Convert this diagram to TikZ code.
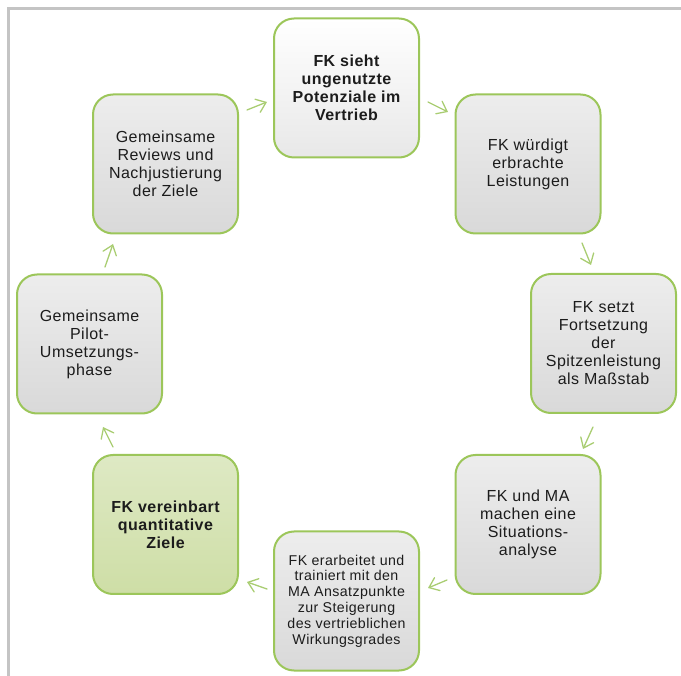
\documentclass[tikz,border=0pt]{standalone}
\usepackage{fontspec}
\setmainfont{Liberation Sans}[LetterSpace=3]
\usetikzlibrary{arrows.meta}
\definecolor{boxgreen}{HTML}{9CC65A}
\definecolor{arrgreen}{HTML}{A9CD72}
\definecolor{txtcol}{HTML}{1C1C1C}
\definecolor{framecol}{HTML}{C4C4C4}
\begin{document}
\begin{tikzpicture}[x=1pt,y=-1pt,
  stepbox/.style={draw=boxgreen, line width=2pt, rounded corners=20pt,
    minimum width=145pt, minimum height=139pt, inner sep=0pt,
    align=center, text=txtcol, font=\fontsize{16}{18}\selectfont,
    top color=white!93!black, middle color=white!86!black, bottom color=white!85!black},
  lightbox/.style={stepbox, top color=white, middle color=white!98!black, bottom color=white!91!black,
    font=\fontsize{16}{18}\selectfont\bfseries},
  greenbox/.style={stepbox, top color={rgb,255:red,222;green,233;blue,196},
    middle color={rgb,255:red,211;green,226;blue,176}, bottom color={rgb,255:red,206;green,222;blue,166},
    font=\fontsize{16}{18}\selectfont\bfseries},
  smallbox/.style={stepbox, font=\fontsize{14.2}{15.8}\selectfont},
  arr/.style={draw=arrgreen, line width=1.3pt, line cap=round,
    -{Straight Barb[length=9pt,width=14pt,line cap=round]}}
]
\useasboundingbox (0,0) rectangle (681,676);
\draw[framecol, line width=2.5pt] (681,8.5) -- (8.5,8.5) -- (8.5,676);

\node[lightbox] (n1) at (346.5,88) {FK sieht\\ungenutzte\\Potenziale im\\Vertrieb};
\node[stepbox] (n2) at (528,164) {FK würdigt\\erbrachte\\Leistungen};
\node[stepbox] (n3) at (603.5,343.5) {FK setzt\\Fortsetzung\\der\\Spitzenleistung\\als Maßstab};
\node[stepbox] (n4) at (528,524.5) {FK und MA\\machen eine\\Situations-\\analyse};
\node[smallbox] (n5) at (346.5,601) {FK erarbeitet und\\trainiert mit den\\MA Ansatzpunkte\\zur Steigerung\\des vertrieblichen\\Wirkungsgrades};
\node[greenbox] (n6) at (165.5,524.5) {FK vereinbart\\quantitative\\Ziele};
\node[stepbox] (n7) at (89.5,344) {Gemeinsame\\Pilot-\\Umsetzungs-\\phase};
\node[stepbox] (n8) at (165.5,164) {Gemeinsame\\Reviews und\\Nachjustierung\\der Ziele};

\coordinate (a81s) at (247,110); \coordinate (a81e) at (267,102);
\coordinate (a12s) at (428,102); \coordinate (a12e) at (448,112);
\coordinate (a23s) at (582,243); \coordinate (a23e) at (591,265);
\coordinate (a34s) at (593,427); \coordinate (a34e) at (583,449);
\coordinate (a45s) at (447,580); \coordinate (a45e) at (428,588);
\coordinate (a56s) at (267,589); \coordinate (a56e) at (247,582);
\coordinate (a67s) at (113,447); \coordinate (a67e) at (103,427);
\coordinate (a78s) at (105,267); \coordinate (a78e) at (113,244);

\draw[arr] (a81s) -- (a81e);
\draw[arr] (a12s) -- (a12e);
\draw[arr] (a23s) -- (a23e);
\draw[arr] (a34s) -- (a34e);
\draw[arr] (a45s) -- (a45e);
\draw[arr] (a56s) -- (a56e);
\draw[arr] (a67s) -- (a67e);
\draw[arr] (a78s) -- (a78e);
\end{tikzpicture}
\end{document}
